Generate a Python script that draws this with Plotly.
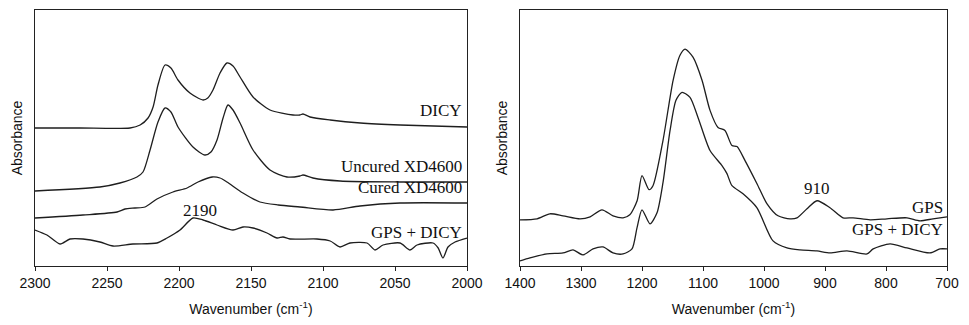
import plotly.graph_objects as go

# ---------------- Left panel data (wavenumber, absorbance a.u.) ----------------
dicy_wn = [2300, 2269, 2234, 2227, 2221.5, 2218, 2214.6, 2209.7, 2205.6, 2200.7, 2192.4, 2183.3,
           2180, 2176.4, 2171.5, 2166.7, 2162.5, 2157.6, 2148.6, 2136.8, 2120.8, 2116, 2113.9,
           2109, 2095, 2074, 2046.5, 2000]
dicy_a = [1.38, 1.38, 1.38, 1.41, 1.48, 1.59, 1.81, 2.01, 1.98, 1.86, 1.73, 1.66,
          1.68, 1.76, 1.93, 2.03, 2.00, 1.89, 1.69, 1.56, 1.51, 1.51, 1.52,
          1.49, 1.46, 1.43, 1.41, 1.39]

uncured_wn = [2300, 2254.9, 2241, 2229.2, 2225, 2220.1, 2214.6, 2209.7, 2205.6, 2200.7, 2190.3,
              2182, 2177.8, 2173.6, 2169.4, 2166, 2162.5, 2157.6, 2148.6, 2136.8, 2125, 2116,
              2113.9, 2107, 2088.2, 2046.5, 2000]
uncured_a = [0.75, 0.79, 0.83, 0.89, 0.94, 1.16, 1.44, 1.58, 1.54, 1.39, 1.19,
             1.11, 1.14, 1.26, 1.48, 1.61, 1.56, 1.43, 1.16, 0.96, 0.89, 0.90,
             0.91, 0.88, 0.85, 0.84, 0.84]

cured_wn = [2300, 2266.7, 2243, 2237.5, 2230.6, 2223.6, 2215.3, 2204.2, 2194.4, 2186.8, 2177,
            2171.5, 2166.7, 2155.6, 2143.8, 2131, 2116, 2093, 2074.3, 2046.5, 2000]
cured_a = [0.48, 0.51, 0.54, 0.57, 0.58, 0.59, 0.67, 0.74, 0.78, 0.84, 0.89,
           0.88, 0.84, 0.73, 0.64, 0.61, 0.59, 0.56, 0.60, 0.63, 0.63]

gpsdicy_l_wn = [2300, 2291.7, 2282.6, 2275.7, 2266.7, 2254.9, 2245.8, 2232, 2215.3, 2208.3, 2199.3,
                2190.3, 2183.3, 2173.6, 2162.5, 2155.6, 2148.6, 2138.9, 2131.9, 2127.8, 2122.9,
                2104.2, 2095, 2088.2, 2081.3, 2069.4, 2063.9, 2058.3, 2046.5, 2039.6, 2034.7,
                2023.6, 2020, 2016.7, 2013.2, 2008.3, 2000]
gpsdicy_l_a = [0.36, 0.31, 0.22, 0.27, 0.27, 0.24, 0.20, 0.22, 0.23, 0.28, 0.36,
               0.48, 0.46, 0.41, 0.36, 0.39, 0.38, 0.33, 0.28, 0.29, 0.27,
               0.27, 0.25, 0.19, 0.23, 0.23, 0.16, 0.21, 0.23, 0.16, 0.21,
               0.23, 0.18, 0.08, 0.19, 0.24, 0.28]

# ---------------- Right panel data ----------------
gps_wn = [1400, 1372, 1351, 1329.5, 1301.6, 1285, 1265.6, 1247.5, 1231, 1220, 1208, 1200,
          1188.5, 1182, 1165.6, 1149, 1137.7, 1129.5, 1116.4, 1101.6, 1088.5, 1075.4, 1064,
          1052.5, 1044.3, 1031.1, 1011.5, 995, 977, 957.4, 945.9, 929.5, 913.1, 891.8, 870.5,
          854, 826, 798.4, 765.6, 744.3, 723, 700]
gps_a = [0.46, 0.47, 0.52, 0.50, 0.47, 0.49, 0.56, 0.50, 0.48, 0.51, 0.65, 0.90,
         0.76, 0.80, 1.25, 1.85, 2.10, 2.16, 2.08, 1.85, 1.55, 1.38, 1.35,
         1.20, 1.19, 1.05, 0.82, 0.62, 0.50, 0.47, 0.48, 0.57, 0.65, 0.58, 0.48,
         0.48, 0.46, 0.47, 0.48, 0.45, 0.47, 0.49]

gpsdicy_r_wn = [1400, 1383.6, 1355.7, 1329.5, 1313, 1296.7, 1280.3, 1264, 1247.5, 1231, 1216.4,
                1208.2, 1200, 1186.9, 1175.4, 1165.6, 1154, 1144.3, 1134.4, 1121.3, 1108.2,
                1088.5, 1068.9, 1060.7, 1052.5, 1034.4, 1011.5, 985.2, 962.3, 941, 913.1,
                891.8, 864, 831.1, 821, 793.4, 765.6, 727.9, 711.5, 700]
gpsdicy_r_a = [0.05, 0.08, 0.12, 0.13, 0.16, 0.11, 0.17, 0.19, 0.13, 0.12, 0.17,
               0.38, 0.56, 0.42, 0.53, 0.83, 1.35, 1.65, 1.73, 1.68, 1.48,
               1.15, 1.00, 0.92, 0.80, 0.72, 0.58, 0.25, 0.18, 0.16, 0.15,
               0.13, 0.15, 0.12, 0.17, 0.22, 0.18, 0.13, 0.17, 0.17]

left_ticks = [2300, 2250, 2200, 2150, 2100, 2050, 2000]
right_ticks = [1400, 1300, 1200, 1100, 1000, 900, 800, 700]

LINE = dict(color="#1e1e1e", width=1.3, shape="spline", smoothing=0.7)

fig = go.Figure()
for wn, a in [(dicy_wn, dicy_a), (uncured_wn, uncured_a), (cured_wn, cured_a),
              (gpsdicy_l_wn, gpsdicy_l_a)]:
    fig.add_trace(go.Scatter(x=wn, y=a, mode="lines", line=LINE, xaxis="x", yaxis="y",
                             showlegend=False, hoverinfo="skip"))
for wn, a in [(gps_wn, gps_a), (gpsdicy_r_wn, gpsdicy_r_a)]:
    fig.add_trace(go.Scatter(x=wn, y=a, mode="lines", line=LINE, xaxis="x2", yaxis="y2",
                             showlegend=False, hoverinfo="skip"))

W, H = 969, 325
axis_common = dict(showline=True, linecolor="#222", linewidth=1.2, mirror=True,
                   showgrid=False, zeroline=False, automargin=False,
                   tickfont=dict(family="Liberation Sans, Arial", size=14, color="#111"),
                   title_font=dict(family="Liberation Sans, Arial", size=14, color="#111"))

fig.update_layout(
    width=W, height=H,
    margin=dict(l=0, r=0, t=10, b=59),
    paper_bgcolor="white", plot_bgcolor="white",
    xaxis=dict(domain=[35 / W, 467 / W], range=[2300, 2000], tickvals=left_ticks,
               ticks="outside", ticklen=4, tickcolor="#222",
               title=dict(text="Wavenumber (cm<sup>-1</sup>)", standoff=14), anchor="y",
               **axis_common),
    yaxis=dict(domain=[0, 1], range=[0, 2.56], showticklabels=False, ticks="",
               title=dict(text="Absorbance", standoff=8), anchor="x", **axis_common),
    xaxis2=dict(domain=[520 / W, 947 / W], range=[1400, 700], tickvals=right_ticks,
                ticks="outside", ticklen=4, tickcolor="#222",
                title=dict(text="Wavenumber (cm<sup>-1</sup>)", standoff=14), anchor="y2",
                **axis_common),
    yaxis2=dict(domain=[0, 1], range=[0, 2.55], showticklabels=False, ticks="",
                title=dict(text="Absorbance", standoff=8), anchor="x2", **axis_common),
)

SERIF = dict(family="Liberation Serif, Times New Roman", size=17, color="#111")
ann = [
    ("x", "y", 2002, 1.56, "DICY", "right"),
    ("x", "y", 2002, 1.00, "Uncured XD4600", "right"),
    ("x", "y", 2002, 0.79, "Cured XD4600", "right"),
    ("x", "y", 2002, 0.34, "GPS + DICY", "right"),
    ("x", "y", 2185.4, 0.56, "2190", "center"),
    ("x2", "y2", 913, 0.77, "910", "center"),
    ("x2", "y2", 703, 0.58, "GPS", "right"),
    ("x2", "y2", 703, 0.36, "GPS + DICY", "right"),
]
for xr, yr, x, y, t, al in ann:
    fig.add_annotation(xref=xr, yref=yr, x=x, y=y, text=t, showarrow=False,
                       xanchor=al, yanchor="middle", font=SERIF)

fig.write_html("out.html")
